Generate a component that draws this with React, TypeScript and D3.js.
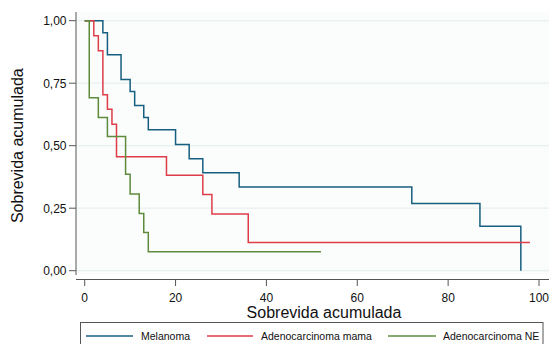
import { useMemo } from "react";
import * as d3 from "d3";

// Kaplan-Meier steps (time, survival)
const melanomaTimes = [0, 4, 5, 8, 10, 11, 13, 14, 20, 23, 26, 34, 72, 87, 96];
const melanomaSurv = [1, 0.952, 0.864, 0.765, 0.717, 0.661, 0.613, 0.564, 0.505, 0.448, 0.392, 0.335, 0.269, 0.178, 0];

const mamaTimes = [0, 2, 3, 4, 5, 6, 7, 18, 26, 28, 36, 98];
const mamaSurv = [1, 0.94, 0.88, 0.704, 0.646, 0.586, 0.456, 0.382, 0.305, 0.227, 0.113, 0.113];

const neTimes = [0, 1, 3, 5, 9, 10, 12, 13, 14, 52];
const neSurv = [1, 0.692, 0.613, 0.537, 0.386, 0.307, 0.229, 0.153, 0.076, 0.076];

const xTicks = [0, 20, 40, 60, 80, 100];
const yTicks = [0, 0.25, 0.5, 0.75, 1];
const seriesNames = ["Melanoma", "Adenocarcinoma mama", "Adenocarcinoma NE"];

const COLORS = ["#175f80", "#de3d48", "#5e8b3b"];
const FONT = "'Liberation Sans', Arial, Helvetica, sans-serif";

const W = 552;
const H = 344;
const plot = { left: 77, right: 549, top: 12, bottom: 274 };

export default function App() {
  const x = useMemo(() => d3.scaleLinear().domain([0, 100]).range([84.7, 539]), []);
  const y = useMemo(() => d3.scaleLinear().domain([0, 1]).range([270.7, 20.7]), []);

  const series = [
    { times: melanomaTimes, surv: melanomaSurv },
    { times: mamaTimes, surv: mamaSurv },
    { times: neTimes, surv: neSurv },
  ];

  const line = d3
    .line<[number, number]>()
    .x((d) => x(d[0]))
    .y((d) => y(d[1]))
    .curve(d3.curveStepAfter);

  const fmtY = (v: number) => v.toFixed(2).replace(".", ",");

  // legend layout
  const legendItems = [
    { x1: 86, x2: 133, tx: 141 },
    { x1: 207, x2: 253, tx: 261 },
    { x1: 388, x2: 436, tx: 443 },
  ];

  return (
    <div style={{ position: "fixed", left: 0, top: 0, width: W, height: H, background: "#fff" }}>
      <svg width={W} height={H} style={{ display: "block" }}>
        <rect x={plot.left} y={plot.top} width={plot.right - plot.left} height={plot.bottom - plot.top} fill="#fbfcfc" />

        {/* grid */}
        {yTicks.map((t) => (
          <line key={`g${t}`} x1={plot.left} x2={plot.right} y1={y(t)} y2={y(t)} stroke="#e8f0f1" strokeWidth={1.2} />
        ))}

        {/* y axis */}
        <line x1={76} x2={76} y1={plot.top} y2={plot.bottom + 1} stroke="#555" strokeWidth={1} />
        {yTicks.map((t) => (
          <g key={`y${t}`}>
            <line x1={69} x2={76} y1={y(t)} y2={y(t)} stroke="#555" strokeWidth={1} />
            <text x={66.5} y={y(t) + 4.3} textAnchor="end" fontSize={12} fontFamily={FONT} fill="#111">
              {fmtY(t)}
            </text>
          </g>
        ))}

        {/* x axis */}
        <line x1={76} x2={549} y1={279.5} y2={279.5} stroke="#555" strokeWidth={1} />
        {xTicks.map((t) => (
          <g key={`x${t}`}>
            <line x1={x(t)} x2={x(t)} y1={279.5} y2={286} stroke="#555" strokeWidth={1} />
            <text x={x(t)} y={301.5} textAnchor="middle" fontSize={12} fontFamily={FONT} fill="#111">
              {t}
            </text>
          </g>
        ))}

        {/* axis titles */}
        <text x={324} y={318} textAnchor="middle" fontSize={16} fontFamily={FONT} fill="#111">
          Sobrevida acumulada
        </text>
        <text
          transform={`translate(22.5, ${(y(0) + y(1)) / 2}) rotate(-90)`}
          textAnchor="middle"
          fontSize={16}
          fontFamily={FONT}
          fill="#111"
        >
          Sobrevida acumulada
        </text>

        {/* survival curves */}
        {series.map((s, i) => (
          <path
            key={`s${i}`}
            d={line(s.times.map((t, j) => [t, s.surv[j]] as [number, number])) ?? ""}
            fill="none"
            stroke={COLORS[i]}
            strokeWidth={1.5}
          />
        ))}

        {/* legend */}
        <rect x={80.5} y={322.5} width={462.5} height={30} fill="#fff" stroke="#555" strokeWidth={1} />
        {seriesNames.map((name, i) => (
          <g key={`l${i}`}>
            <line x1={legendItems[i].x1} x2={legendItems[i].x2} y1={336} y2={336} stroke={COLORS[i]} strokeWidth={1.5} />
            <text x={legendItems[i].tx} y={340} fontSize={10.5} fontFamily={FONT} fill="#111">
              {name}
            </text>
          </g>
        ))}
      </svg>
    </div>
  );
}
